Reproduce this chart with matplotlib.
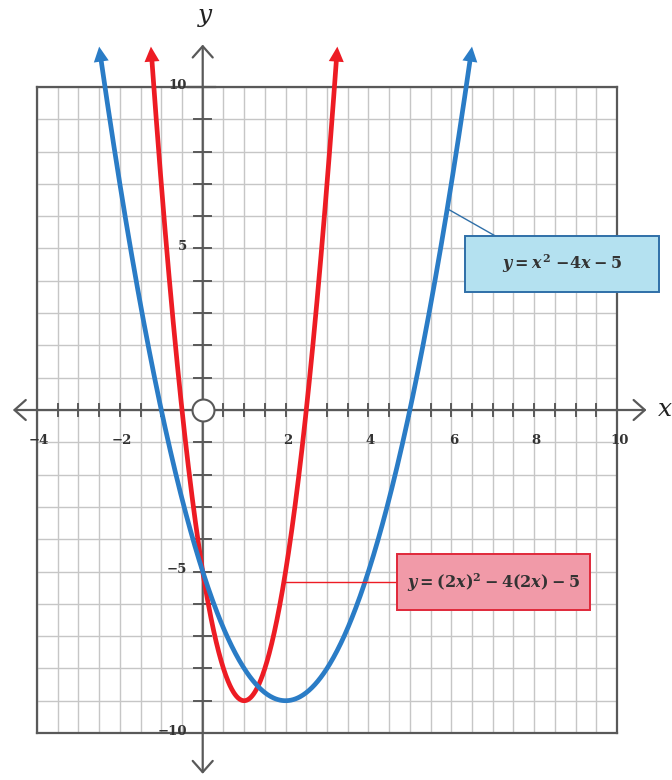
import numpy as np
import matplotlib
matplotlib.use("Agg")
import matplotlib.pyplot as plt
from matplotlib.patches import FancyArrowPatch, Rectangle

# the two parabolas as shown in the labels
blue_coefs = [1, -4, -5]          # y = x^2 - 4x - 5
red_coefs = [4, -8, -5]           # y = (2x)^2 - 4(2x) - 5
blue_range = [-2.5, 6.5]
red_range = [-1.25, 3.25]
blue_label = r"$y = x^2\ {-}4x - 5$"
red_label = r"$y = (2x)^2 - 4(2x) - 5$"

xtick_labels = [-4, -2, 2, 4, 6, 8, 10]
ytick_labels = [10, 5, -5, -10]

BLUE = "#2a7cc6"
RED = "#ed1c24"
AXC = "#595959"
TXT = "#333333"

plt.rcParams["mathtext.fontset"] = "custom"
plt.rcParams["mathtext.it"] = "DejaVu Serif:italic:bold"
plt.rcParams["mathtext.rm"] = "DejaVu Serif:bold"
plt.rcParams["mathtext.bf"] = "DejaVu Serif:bold"

fig = plt.figure(figsize=(6.72, 7.80), dpi=100)
ax = fig.add_axes([37 / 672, 1 - 733 / 780, 580 / 672, 646 / 780])
ax.set_xlim(-4, 10)
ax.set_ylim(-10, 10)

# grid
ax.set_xticks(np.arange(-4, 10.01, 0.5))
ax.set_yticks(np.arange(-10, 10.01, 1))
ax.tick_params(length=0, labelbottom=False, labelleft=False)
ax.grid(True, color="#c6c6c6", lw=1.0)
ax.set_axisbelow(True)
for s in ax.spines.values():
    s.set_color(AXC)
    s.set_linewidth(1.6)

# axes with open arrowheads
xa = FancyArrowPatch((-4.65, 0), (10.78, 0), arrowstyle="<->,head_length=0.45,head_width=0.4",
                     mutation_scale=18, color=AXC, lw=1.6, clip_on=False, zorder=3)
ya = FancyArrowPatch((0, -11.35), (0, 11.4), arrowstyle="<->,head_length=0.45,head_width=0.4",
                     mutation_scale=18, color=AXC, lw=1.6, clip_on=False, zorder=3)
ax.add_patch(xa)
ax.add_patch(ya)

# tick marks on the axes
for xt in np.arange(-4, 10.01, 0.5):
    if xt == 0:
        continue
    ax.plot([xt, xt], [-0.19, 0.19], color=AXC, lw=1.4, zorder=3, clip_on=False)
for yt in np.arange(-10, 10.01, 1):
    if yt == 0:
        continue
    ax.plot([-0.2, 0.2], [yt, yt], color=AXC, lw=1.4, zorder=3, clip_on=False)
ax.plot([-0.35, 0.3], [10, 10], color=AXC, lw=1.6, zorder=3, clip_on=False)

# origin ring
ax.scatter([0], [0], s=250, facecolor="white", edgecolor=AXC, lw=1.5, zorder=4)

# tick labels
for xt in xtick_labels:
    lab = str(xt).replace("-", "\u2212")
    ax.text(xt + 0.05, -0.95, lab, ha="center", va="center", fontsize=9.5,
            family="DejaVu Serif", weight="bold", color=TXT, zorder=5)
for yt in ytick_labels:
    lab = str(yt).replace("-", "\u2212")
    ax.text(-0.38, yt + 0.05, lab, ha="right", va="center", fontsize=9.5,
            family="DejaVu Serif", weight="bold", color=TXT, zorder=5)

ax.text(11.15, 0, "x", ha="center", va="center", fontsize=18, family="DejaVu Serif",
        style="italic", color="#222222", clip_on=False)
ax.text(0.05, 12.2, "y", ha="center", va="center", fontsize=18, family="DejaVu Serif",
        style="italic", color="#222222", clip_on=False)


def draw_curve(coefs, xr, back, color, z):
    # line stops a little short of each end, the arrow head covers the rest
    xs = np.linspace(xr[0] + back, xr[1] - back, 500)
    ax.plot(xs, np.polyval(coefs, xs), color=color, lw=3.4, zorder=z,
            clip_on=False, solid_capstyle="butt")
    for tip, tail in [(xr[0], xr[0] + back), (xr[1], xr[1] - back)]:
        a = FancyArrowPatch((tail, np.polyval(coefs, tail)), (tip, np.polyval(coefs, tip)),
                            arrowstyle="-|>,head_length=0.6,head_width=0.3",
                            mutation_scale=18, color=color, lw=0, clip_on=False,
                            zorder=z, shrinkA=0, shrinkB=0)
        ax.add_patch(a)


draw_curve(red_coefs, red_range, 0.018, RED, 6)
draw_curve(blue_coefs, blue_range, 0.035, BLUE, 7)

# blue callout
ax.plot([5.92, 7.06], [6.22, 5.39], color="#2f6fa8", lw=1.0, zorder=5)
ax.add_patch(Rectangle((6.34, 3.65), 4.68, 1.74, facecolor="#b4e1f0", edgecolor="#2f6fa8",
                       lw=1.4, zorder=8, clip_on=False))
ax.text(8.68, 4.52, blue_label, ha="center", va="center", fontsize=11.5, color=TXT,
        zorder=9, clip_on=False)

# red callout
ax.plot([1.96, 4.7], [-5.33, -5.33], color=RED, lw=1.0, zorder=8)
ax.add_patch(Rectangle((4.7, -6.2), 4.66, 1.73, facecolor="#f19aa8", edgecolor="#e0283a",
                       lw=1.4, zorder=8, clip_on=False))
ax.text(7.03, -5.33, red_label, ha="center", va="center", fontsize=11.5, color=TXT,
        zorder=9, clip_on=False)

fig.savefig("out.png", dpi=100)
